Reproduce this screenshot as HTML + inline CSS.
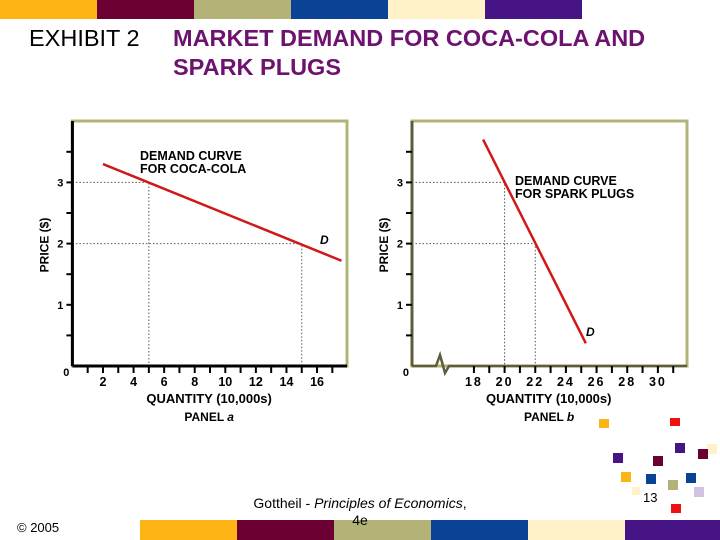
<!DOCTYPE html>
<html><head><meta charset="utf-8"><style>
body{margin:0;width:720px;height:540px;overflow:hidden;background:#fff;font-family:"Liberation Sans",sans-serif;position:relative}
.b{position:absolute}
</style></head><body>
<div>
<div class="b" style="left:0;top:0;width:97px;height:19px;background:#FDB515"></div>
<div class="b" style="left:97px;top:0;width:97px;height:19px;background:#6B0033"></div>
<div class="b" style="left:194px;top:0;width:97px;height:19px;background:#B3B378"></div>
<div class="b" style="left:291px;top:0;width:97px;height:19px;background:#0A4395"></div>
<div class="b" style="left:388px;top:0;width:97px;height:19px;background:#FFF1C8"></div>
<div class="b" style="left:485px;top:0;width:97px;height:19px;background:#461485"></div>
</div>
<div class="b" style="left:29px;top:25px;font-size:23.5px;color:#000">EXHIBIT 2</div>
<div class="b" style="left:173px;top:24px;font-size:23.5px;font-weight:bold;color:#6E1270;line-height:29px;white-space:nowrap">MARKET DEMAND FOR COCA-COLA AND<br>SPARK PLUGS</div>

<svg class="b" style="left:0;top:0" width="720" height="540" font-family="Liberation Sans, sans-serif">
<g id="pa"></g>
<g id="pb"></g>
</svg>

<div class="b" style="left:17px;top:520px;font-size:13px;color:#000">© 2005</div>
<div>
<div class="b" style="left:140px;top:520px;width:97px;height:20px;background:#FDB515"></div>
<div class="b" style="left:237px;top:520px;width:97px;height:20px;background:#6B0033"></div>
<div class="b" style="left:334px;top:520px;width:97px;height:20px;background:#B3B378"></div>
<div class="b" style="left:431px;top:520px;width:97px;height:20px;background:#0A4395"></div>
<div class="b" style="left:528px;top:520px;width:97px;height:20px;background:#FFF1C8"></div>
<div class="b" style="left:625px;top:520px;width:95px;height:20px;background:#461485"></div>
</div>
<div class="b" style="left:240px;top:495px;width:240px;text-align:center;font-size:14px;line-height:17px;color:#000;z-index:2">Gottheil - <i>Principles of Economics</i>,<br>4e</div>
<div class="b" style="left:643px;top:490px;font-size:13px">13</div>
<div>
<div class="b" style="left:599px;top:419px;width:10px;height:9px;background:#FDB515"></div>
<div class="b" style="left:670px;top:418px;width:10px;height:8px;background:#EE1111"></div>
<div class="b" style="left:675px;top:443px;width:10px;height:10px;background:#461485"></div>
<div class="b" style="left:707px;top:444px;width:10px;height:10px;background:#FFF1C8"></div>
<div class="b" style="left:613px;top:453px;width:10px;height:10px;background:#461485"></div>
<div class="b" style="left:653px;top:456px;width:10px;height:10px;background:#6B0033"></div>
<div class="b" style="left:698px;top:449px;width:10px;height:10px;background:#6B0033"></div>
<div class="b" style="left:621px;top:472px;width:10px;height:10px;background:#FDB515"></div>
<div class="b" style="left:646px;top:474px;width:10px;height:10px;background:#0A4395"></div>
<div class="b" style="left:686px;top:473px;width:10px;height:10px;background:#0A4395"></div>
<div class="b" style="left:668px;top:480px;width:10px;height:10px;background:#B3B378"></div>
<div class="b" style="left:632px;top:487px;width:8px;height:8px;background:#FFF1C8"></div>
<div class="b" style="left:694px;top:487px;width:10px;height:10px;background:#D0C4E0"></div>
<div class="b" style="left:671px;top:504px;width:10px;height:9px;background:#EE1111"></div>
</div>
<script>
const NS="http://www.w3.org/2000/svg";
// Panel a data
const aXTicks=[2,4,6,8,10,12,14,16];
const aYTicks=[0,1,2,3];
const aCurveQ=[2,17.6];
const aCurveP=[3.3,1.72];
const aRefQ=[5,15];
const aRefP=[3,2];
// Panel b data
const bXTicks=[18,20,22,24,26,28,30];
const bYTicks=[0,1,2,3];
const bCurveQ=[18.6,25.3];
const bCurveP=[3.7,0.37];
const bRefQ=[20,22];
const bRefP=[3,2];

function el(p,t,a,txt){const e=document.createElementNS(NS,t);for(const k in a)e.setAttribute(k,a[k]);if(txt!==undefined)e.textContent=txt;p.appendChild(e);return e;}

function panel(g,o){
  const {x0,q0,unit,top,right,axisCol,curveQ,curveP,refQ,refP,xTicks,yTicks,minQ,maxQ,title,tx,ty,dx,dy,panelLbl,brk}=o;
  const bottom=366,yu=61.2;
  const X=q=>x0+(q-q0)*unit, Y=p=>bottom-p*yu;
  let e=el(g,'rect',{x:x0,y:top,width:right-x0,height:bottom-top,fill:'none',stroke:'#B3B378','stroke-width':3});
  
  for(let i=0;i<refQ.length;i++){
    e=el(g,'polyline',{points:`${x0},${Y(refP[i])} ${X(refQ[i])},${Y(refP[i])} ${X(refQ[i])},${bottom}`,fill:'none',stroke:'#555','stroke-width':1,'stroke-dasharray':'1.5,2'});
    
  }
  e=el(g,'line',{x1:x0,y1:top,x2:x0,y2:bottom,stroke:axisCol,'stroke-width':3});
  
  if(brk){
    e=el(g,'polyline',{points:`${x0},${bottom} ${brk},${bottom} ${brk+4},${bottom-11} ${brk+9},${bottom+7} ${brk+13},${bottom} ${right},${bottom}`,fill:'none',stroke:axisCol,'stroke-width':2.5});
  } else e=el(g,'line',{x1:x0,y1:bottom,x2:right,y2:bottom,stroke:axisCol,'stroke-width':3});
  
  for(let q=minQ;q<=maxQ;q++){
    e=el(g,'line',{x1:X(q),y1:bottom,x2:X(q),y2:bottom+7,stroke:'#000','stroke-width':2});
    
  }
  for(let p=0.5;p<=3.5;p+=0.5){
    e=el(g,'line',{x1:x0-6,y1:Y(p),x2:x0,y2:Y(p),stroke:'#000','stroke-width':2});
    
  }
  xTicks.forEach(q=>{e=el(g,'text',{x:X(q),y:bottom+20,'font-size':12.5,'font-weight':'bold','text-anchor':'middle','letter-spacing':brk?2:0},q);
    });
  yTicks.forEach(p=>{e=el(g,'text',{x:p===0?x0-3:x0-9,y:Y(p)+(p===0?10:4),'font-size':11,'font-weight':'bold','text-anchor':'end'},p);
    });
  e=el(g,'text',{x:x0+o.lblOff,y:403,'font-size':13,'font-weight':'bold','text-anchor':'start'},'QUANTITY (10,000s)');
  
  e=el(g,'text',{x:x0+o.lblOff+38,y:421,'font-size':12,'font-weight':'bold'});
  
  e.innerHTML='PANEL <tspan font-style="italic">'+panelLbl+'</tspan>';
  e=el(g,'text',{transform:`translate(${x0-24},245) rotate(-90)`,'font-size':12,'font-weight':'bold','text-anchor':'middle'},'PRICE ($)');
  
  e=el(g,'line',{x1:X(curveQ[0]),y1:Y(curveP[0]),x2:X(curveQ[1]),y2:Y(curveP[1]),stroke:'#D01818','stroke-width':2.5});
  
  e=el(g,'text',{x:tx,y:ty,'font-size':12.5,'font-weight':'bold'});
  
  e.innerHTML=`<tspan x="${tx}">${title[0]}</tspan><tspan x="${tx}" dy="13">${title[1]}</tspan>`;
  e=el(g,'text',{x:dx,y:dy,'font-size':12,'font-weight':'bold','font-style':'italic'},'D');
  
}
panel(document.getElementById('pa'),{x0:72.4,q0:0,unit:15.29,top:121,right:347,axisCol:'#000',curveQ:aCurveQ,curveP:aCurveP,refQ:aRefQ,refP:aRefP,xTicks:aXTicks,yTicks:aYTicks,minQ:1,maxQ:17,title:['DEMAND CURVE','FOR COCA-COLA'],tx:140,ty:160,dx:320,dy:244,panelLbl:'a',lblOff:74});
panel(document.getElementById('pb'),{x0:412,q0:13.96,unit:15.33,top:121,right:687,axisCol:'#5E5C3A',curveQ:bCurveQ,curveP:bCurveP,refQ:bRefQ,refP:bRefP,xTicks:bXTicks,yTicks:bYTicks,minQ:18,maxQ:31,title:['DEMAND CURVE','FOR SPARK PLUGS'],tx:515,ty:185,dx:586,dy:336,panelLbl:'b',lblOff:74,brk:436});
</script>
</body></html>
